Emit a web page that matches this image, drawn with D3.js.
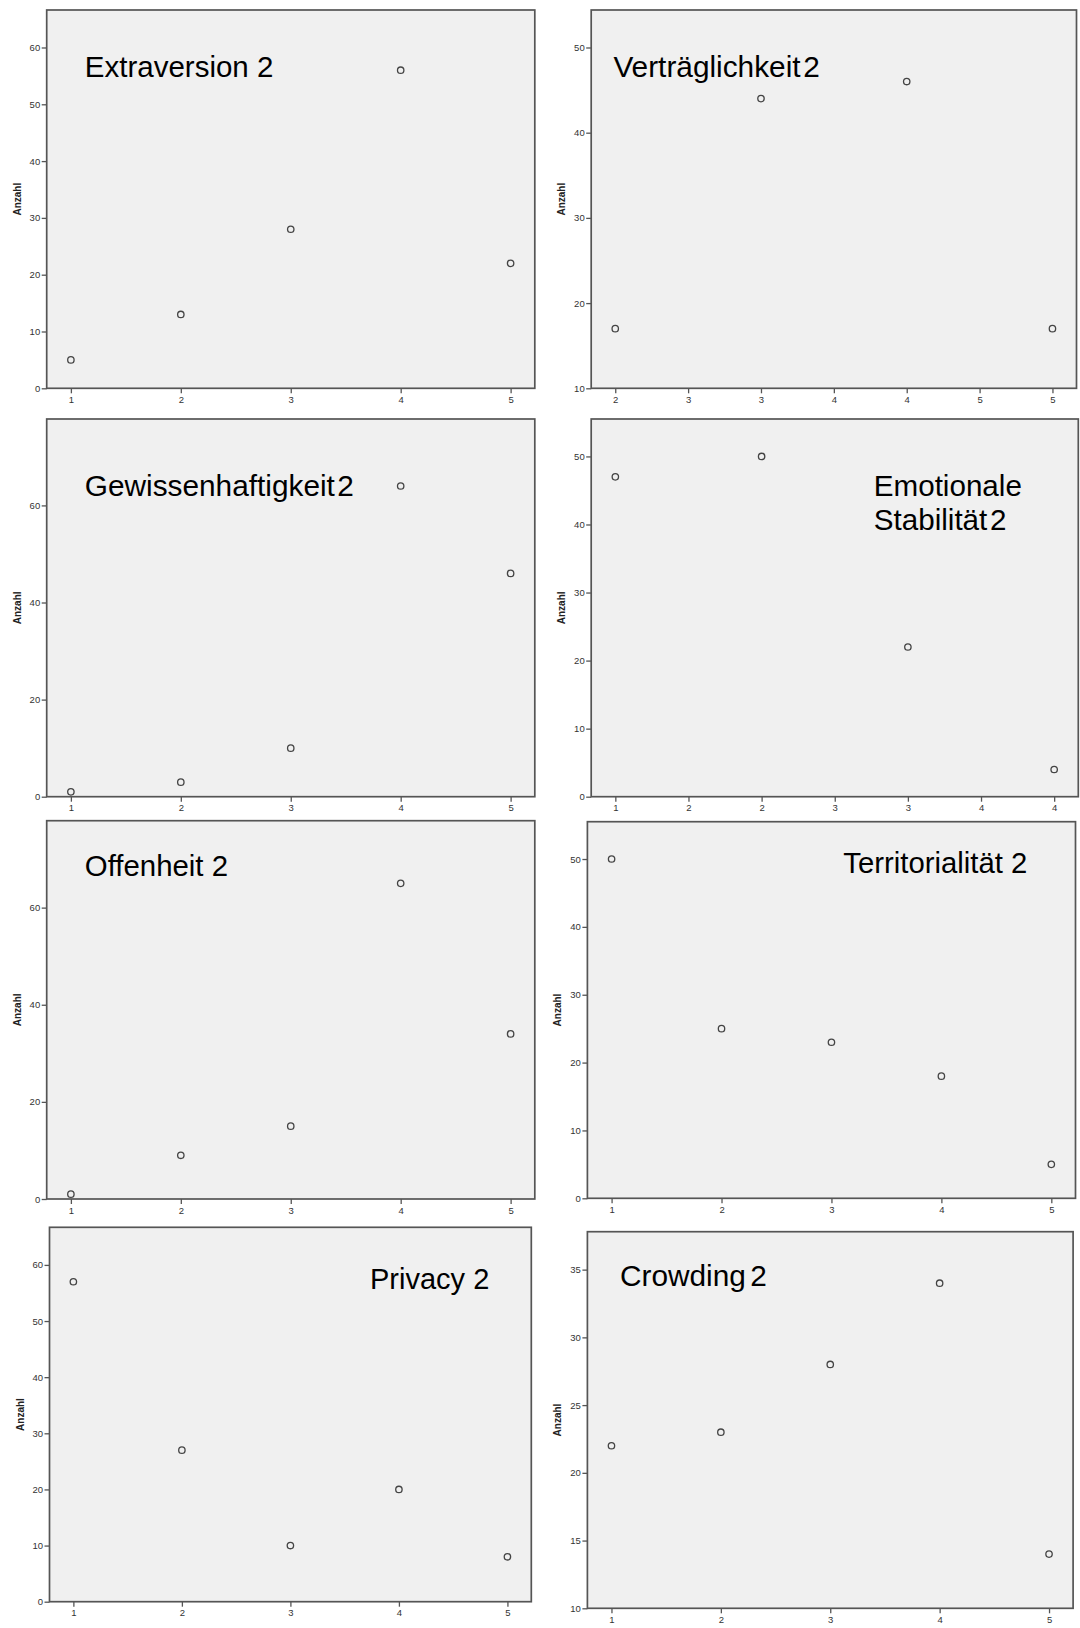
<!DOCTYPE html>
<html>
<head>
<meta charset="utf-8">
<script src="https://cdn.jsdelivr.net/npm/d3@7"></script>
<style>
  html, body { margin: 0; padding: 0; background: #ffffff; }
  svg { display: block; }
  .tick text { font-family: "Liberation Sans", Arial, sans-serif; font-size: 9.5px; fill: #333; }
  .tick line { stroke: #555; stroke-width: 1.3; }
  .domain { display: none; }
</style>
</head>
<body>
<svg id="chart" width="1080" height="1628"></svg>
<script>
// ---- data: answer categories (x) and counts ("Anzahl", y) per item ----
const titles = [
  ["Extraversion 2"],
  ["Verträglichkeit 2"],
  ["Gewissenhaftigkeit 2"],
  ["Emotionale", "Stabilität 2"],
  ["Offenheit 2"],
  ["Territorialität 2"],
  ["Privacy 2"],
  ["Crowding 2"]
];

const categoriesFull  = [1, 2, 3, 4, 5];
const categoriesUpper = [2, 3, 4, 5];
const categoriesLower = [1, 2, 3, 4];

const extraversion          = [5, 13, 28, 56, 22];
const vertraeglichkeit      = [17, 44, 46, 17];
const gewissenhaftigkeit    = [1, 3, 10, 64, 46];
const emotionaleStabilitaet = [47, 50, 22, 4];
const offenheit             = [1, 9, 15, 65, 34];
const territorialitaet      = [50, 25, 23, 18, 5];
const privacy               = [57, 27, 10, 20, 8];
const crowding              = [22, 23, 28, 34, 14];

// x tick positions and their printed labels
const xTicksFull   = [1, 2, 3, 4, 5];
const xLabelsFull  = ["1", "2", "3", "4", "5"];
const xTicksUpper  = [2, 2.5, 3, 3.5, 4, 4.5, 5];
const xLabelsUpper = ["2", "3", "3", "4", "4", "5", "5"];
const xTicksLower  = [1, 1.5, 2, 2.5, 3, 3.5, 4];
const xLabelsLower = ["1", "2", "2", "3", "3", "4", "4"];

// y ticks and axis extents
const yTicks10  = [0, 10, 20, 30, 40, 50, 60];
const yTicks20  = [0, 20, 40, 60];
const yTicksV   = [10, 20, 30, 40, 50];
const yTicks50  = [0, 10, 20, 30, 40, 50];
const yTicksC   = [10, 15, 20, 25, 30, 35];
const yMin = [0, 10, 0, 0, 0, 0, 0, 10];
const yMax = [66.6, 54.4, 77.8, 55.5, 77.9, 55.5, 66.7, 37.8];

const yLabel = "Anzahl";

// ---- panel assembly ----
const panels = [
  { x: categoriesFull,  y: extraversion,          xt: xTicksFull,  xl: xLabelsFull,  yt: yTicks10 },
  { x: categoriesUpper, y: vertraeglichkeit,      xt: xTicksUpper, xl: xLabelsUpper, yt: yTicksV },
  { x: categoriesFull,  y: gewissenhaftigkeit,    xt: xTicksFull,  xl: xLabelsFull,  yt: yTicks20 },
  { x: categoriesLower, y: emotionaleStabilitaet, xt: xTicksLower, xl: xLabelsLower, yt: yTicks50 },
  { x: categoriesFull,  y: offenheit,             xt: xTicksFull,  xl: xLabelsFull,  yt: yTicks20 },
  { x: categoriesFull,  y: territorialitaet,      xt: xTicksFull,  xl: xLabelsFull,  yt: yTicks50 },
  { x: categoriesFull,  y: privacy,               xt: xTicksFull,  xl: xLabelsFull,  yt: yTicks10 },
  { x: categoriesFull,  y: crowding,              xt: xTicksFull,  xl: xLabelsFull,  yt: yTicksC }
];

// plot frames (left, top, right, bottom) and title placement
const frames = [
  [46.7, 10, 534.8, 388.3],
  [591.2, 10, 1076.5, 388.3],
  [46.7, 419, 534.8, 796.7],
  [591.2, 419, 1078.3, 796.7],
  [46.7, 820.7, 534.8, 1199],
  [587.4, 821.7, 1075.5, 1198.3],
  [49.5, 1227.3, 531.3, 1601.7],
  [587.4, 1231.7, 1073.1, 1608.3]
];
const titlePos = [
  [84.8, 77], [613.4, 77], [84.8, 495.5], [873.8, 495.5],
  [84.8, 875.5], [843.3, 872.5], [370, 1288.5], [620, 1286]
];
const titleFontSize = [29.5, 29.8, 29.8, 29.6, 29.4, 29.3, 29, 29.8];
const titleWordSpacing = [0, -5.5, -6, -5.5, 0, 0, 0, -4];

const svg = d3.select("#chart");
svg.append("rect").attr("width", 1080).attr("height", 1628).attr("fill", "#ffffff");

panels.forEach((p, i) => {
  const [l, t, r, b] = frames[i];
  const lo = d3.min(p.x), hi = d3.max(p.x);
  const pad = (hi - lo) * 0.055;
  const xs = d3.scaleLinear().domain([lo - pad, hi + pad]).range([l, r]);
  const ys = d3.scaleLinear().domain([yMin[i], yMax[i]]).range([b, t]);

  const g = svg.append("g");

  // plot area
  g.append("rect")
    .attr("x", l).attr("y", t)
    .attr("width", r - l).attr("height", b - t)
    .attr("fill", "#f0f0f0");

  // axes
  g.append("g")
    .attr("transform", `translate(${l},0)`)
    .call(d3.axisLeft(ys).tickValues(p.yt).tickFormat(d3.format("d"))
      .tickSize(5).tickSizeOuter(0).tickPadding(1.5));

  g.append("g")
    .attr("transform", `translate(0,${b})`)
    .call(d3.axisBottom(xs).tickValues(p.xt).tickFormat((d, k) => p.xl[k])
      .tickSize(5).tickSizeOuter(0).tickPadding(3));

  // frame border
  g.append("rect")
    .attr("x", l).attr("y", t)
    .attr("width", r - l).attr("height", b - t)
    .attr("fill", "none")
    .attr("stroke", "#555")
    .attr("stroke-width", 1.7);

  // y axis title
  g.append("text")
    .attr("transform", `translate(${l - 26},${(t + b) / 2}) rotate(-90)`)
    .attr("text-anchor", "middle")
    .attr("font-family", "Liberation Sans, Arial, sans-serif")
    .attr("font-size", 10)
    .attr("font-weight", "bold")
    .attr("fill", "#222")
    .text(yLabel);

  // points
  g.selectAll("circle.pt")
    .data(p.x.map((c, k) => ({ c, v: p.y[k] })))
    .join("circle")
    .attr("class", "pt")
    .attr("cx", d => xs(d.c))
    .attr("cy", d => ys(d.v))
    .attr("r", 3.2)
    .attr("fill", "none")
    .attr("stroke", "#444")
    .attr("stroke-width", 1.3);

  // item title
  const [tx, ty] = titlePos[i];
  const tt = g.append("text")
    .attr("x", tx).attr("y", ty)
    .attr("font-family", "Liberation Sans, Arial, sans-serif")
    .attr("font-size", titleFontSize[i])
    .attr("word-spacing", titleWordSpacing[i])
    .attr("fill", "#000");
  titles[i].forEach((line, k) => {
    tt.append("tspan").attr("x", tx).attr("dy", k === 0 ? 0 : 34.3).text(line);
  });
});
</script>
</body>
</html>
